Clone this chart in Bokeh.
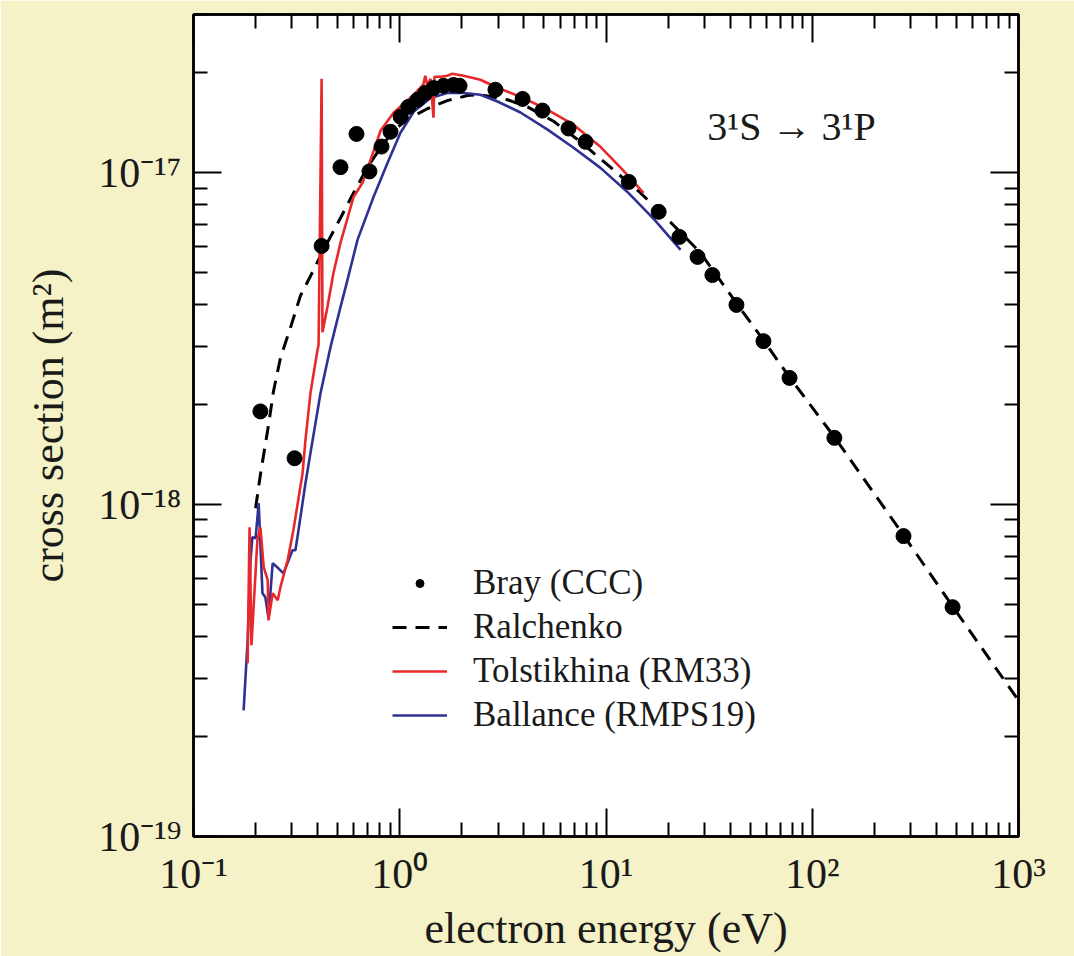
from bokeh.plotting import figure
from bokeh.models import (FixedTicker, LogAxis, Legend, LegendItem, Label,
                          CustomJSTickFormatter)
from bokeh.embed import file_html
from bokeh.resources import INLINE

# ---- tick definitions ----
x_major = [0.1, 1, 10, 100, 1000]
x_labels = ["10⁻¹", "10⁰", "10¹", "10²", "10³"]
y_major = [1e-19, 1e-18, 1e-17]
y_labels = ["10⁻¹⁹", "10⁻¹⁸", "10⁻¹⁷"]
x_minor = [m * 10.0 ** k for k in range(-1, 3) for m in range(2, 10)]
y_minor = [m * 10.0 ** k for k in (-19, -18) for m in range(2, 10)] + [2e-17, 3e-17]

# ---- data (electron energy in eV, cross section in m^2) ----
bray_e = [0.211, 0.309, 0.418, 0.516, 0.617, 0.713, 0.816, 0.902, 1.01, 1.10,
          1.22, 1.33, 1.46, 1.63, 1.82, 1.95, 2.91, 3.94, 4.92, 6.58, 7.96,
          12.9, 18.0, 22.7, 27.8, 32.8, 42.9, 58.0, 77.6, 128, 277, 479]
bray_cs = [1.91e-18, 1.38e-18, 6.02e-18, 1.04e-17, 1.31e-17, 1.01e-17, 1.20e-17,
           1.33e-17, 1.475e-17, 1.58e-17, 1.66e-17, 1.74e-17, 1.80e-17, 1.83e-17,
           1.84e-17, 1.83e-17, 1.78e-17, 1.67e-17, 1.54e-17, 1.36e-17, 1.24e-17,
           9.39e-18, 7.63e-18, 6.41e-18, 5.58e-18, 4.92e-18, 4.00e-18, 3.11e-18,
           2.41e-18, 1.59e-18, 8.04e-19, 4.91e-19]

ralch_e = [0.200, 0.211, 0.229, 0.236, 0.244, 0.264, 0.295, 0.330, 0.378, 0.422,
           0.516, 0.597, 0.698, 0.807, 0.933, 1.09, 1.36, 1.70, 2.13, 2.46, 3.33,
           4.16, 5.57, 7.52, 10.5, 14.7, 20.5, 28.7, 42.9, 58.0, 77.6, 128, 277,
           479, 1000]
ralch_cs = [9.76e-19, 1.23e-18, 1.68e-18, 1.90e-18, 2.19e-18, 2.77e-18, 3.41e-18,
            4.26e-18, 5.03e-18, 5.78e-18, 7.31e-18, 8.70e-18, 1.04e-17, 1.19e-17,
            1.34e-17, 1.45e-17, 1.56e-17, 1.65e-17, 1.71e-17, 1.72e-17, 1.66e-17,
            1.58e-17, 1.43e-17, 1.24e-17, 1.04e-17, 8.70e-18, 7.11e-18, 5.74e-18,
            4.05e-18, 3.13e-18, 2.42e-18, 1.60e-18, 8.09e-19, 4.94e-19, 2.57e-19]

tol_e = [0.183, 0.187, 0.191, 0.204, 0.211, 0.219, 0.229, 0.231, 0.242, 0.256,
         0.264, 0.286, 0.305, 0.338, 0.349, 0.369, 0.399, 0.404, 0.418, 0.422,
         0.446, 0.477, 0.516, 0.597, 0.660, 0.722, 0.807, 0.933, 1.17, 1.30,
         1.33, 1.36, 1.41, 1.457, 1.474, 1.58, 1.70, 1.80, 2.04, 2.46, 2.98,
         3.85, 5.21, 6.96, 9.40, 11.8, 15.2]
tol_cs = [3.33e-19, 8.55e-19, 3.77e-19, 7.81e-19, 8.55e-19, 6.48e-19, 5.92e-19,
          4.48e-19, 5.41e-19, 5.15e-19, 5.64e-19, 6.80e-19, 8.38e-19, 1.245e-18,
          1.565e-18, 2.17e-18, 2.92e-18, 3.03e-18, 1.92e-17, 3.31e-18, 3.94e-18,
          4.99e-18, 6.15e-18, 8.46e-18, 9.33e-18, 1.094e-17, 1.339e-17, 1.517e-17,
          1.719e-17, 1.843e-17, 1.962e-17, 1.830e-17, 1.921e-17, 1.466e-17,
          1.948e-17, 1.948e-17, 1.962e-17, 1.989e-17, 1.962e-17, 1.908e-17,
          1.805e-17, 1.696e-17, 1.549e-17, 1.396e-17, 1.198e-17, 1.035e-17, 8.70e-18]

bal_e = [0.175, 0.183, 0.189, 0.193, 0.200, 0.207, 0.216, 0.223, 0.231, 0.242,
         0.258, 0.273, 0.302, 0.312, 0.323, 0.349, 0.369, 0.413, 0.462, 0.516,
         0.558, 0.624, 0.746, 0.872, 1.008, 1.17, 1.41, 1.70, 2.04, 2.46, 2.98,
         3.85, 5.21, 6.96, 9.40, 12.7, 17.2, 23.0]
bal_cs = [2.40e-19, 3.90e-19, 6.80e-19, 7.98e-19, 7.92e-19, 1.01e-18, 5.41e-19,
          5.26e-19, 4.55e-19, 6.66e-19, 6.43e-19, 6.21e-19, 7.29e-19, 7.29e-19,
          8.38e-19, 1.16e-18, 1.43e-18, 2.17e-18, 2.99e-18, 3.94e-18, 4.76e-18,
          6.28e-18, 8.46e-18, 1.07e-17, 1.32e-17, 1.53e-17, 1.68e-17, 1.74e-17,
          1.74e-17, 1.72e-17, 1.64e-17, 1.52e-17, 1.35e-17, 1.19e-17, 1.035e-17,
          8.76e-18, 7.21e-18, 5.86e-18]

SERIF = "Liberation Serif"
RED = "#E8282B"
BLUE = "#2E3192"

p = figure(width=1074, height=956, x_axis_type="log", y_axis_type="log",
           x_range=(0.1, 1000), y_range=(1e-19, 3e-17),
           output_backend="svg", toolbar_location=None,
           min_border_left=193, min_border_right=56,
           min_border_top=14, min_border_bottom=120)
p.border_fill_color = "#F4F2C6"
p.background_fill_color = "white"
p.grid.visible = False
p.outline_line_color = "black"
p.outline_line_width = 2.5

xt = FixedTicker(ticks=x_major, minor_ticks=x_minor)
yt = FixedTicker(ticks=y_major, minor_ticks=y_minor)

def style_axis(ax):
    ax.major_tick_in = 28
    ax.major_tick_out = 0
    ax.minor_tick_in = 14
    ax.minor_tick_out = 0
    ax.major_tick_line_width = 2
    ax.minor_tick_line_width = 2
    ax.major_tick_line_color = "black"
    ax.minor_tick_line_color = "black"
    ax.axis_line_width = 2.5
    ax.axis_line_color = "black"
    ax.major_label_text_font = SERIF
    ax.major_label_text_font_size = "42px"
    ax.major_label_text_color = "#1a1a1a"
    ax.axis_label_text_font = SERIF
    ax.axis_label_text_font_size = "44px"
    ax.axis_label_text_font_style = "normal"
    ax.axis_label_text_color = "#1a1a1a"

xa = p.xaxis[0]
ya = p.yaxis[0]
xa.ticker = xt
ya.ticker = yt
style_axis(xa)
style_axis(ya)
xa.major_label_overrides = dict(zip(x_major, x_labels))
ya.major_label_overrides = dict(zip(y_major, y_labels))
xa.major_label_standoff = 14
ya.major_label_standoff = 12
xa.axis_label = "electron energy (eV)"
ya.axis_label = "cross section (m²)"
xa.axis_label_standoff = 4
ya.axis_label_standoff = 22

blank = CustomJSTickFormatter(code="return ''")
top = LogAxis(ticker=xt, formatter=blank)
right = LogAxis(ticker=yt, formatter=blank)
for ax in (top, right):
    style_axis(ax)
    ax.major_label_standoff = 0
    ax.major_label_text_font_size = "1px"
p.add_layout(top, "above")
p.add_layout(right, "right")

r_dash = p.line(ralch_e, ralch_cs, line_color="black", line_width=3, line_dash="14 9")
r_blue = p.line(bal_e, bal_cs, line_color=BLUE, line_width=2.6)
r_red = p.line(tol_e, tol_cs, line_color=RED, line_width=2.6)
r_dots = p.scatter(bray_e, bray_cs, size=15, fill_color="black", line_color="black")

legend = Legend(items=[
    LegendItem(label="Bray (CCC)", renderers=[r_dots]),
    LegendItem(label="Ralchenko", renderers=[r_dash]),
    LegendItem(label="Tolstikhina (RM33)", renderers=[r_red]),
    LegendItem(label="Ballance (RMPS19)", renderers=[r_blue]),
], location=(199, 101))
legend.label_text_font = SERIF
legend.label_text_font_size = "35px"
legend.label_text_color = "#1a1a1a"
legend.glyph_width = 55
legend.glyph_height = 20
legend.label_standoff = 26
legend.spacing = 4
legend.padding = 0
legend.margin = 0
legend.border_line_color = None
legend.background_fill_alpha = 0
p.add_layout(legend)

p.add_layout(Label(x=31, y=1.38e-17, text="3¹S → 3¹P", text_font=SERIF,
                   text_font_size="40px", text_baseline="alphabetic",
                   text_color="#1a1a1a"))

open("out.html", "w").write(file_html(p, INLINE))
